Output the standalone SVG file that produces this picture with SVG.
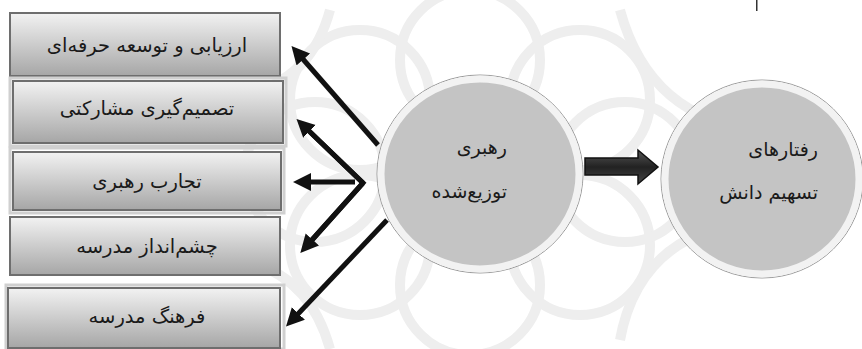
<svg xmlns="http://www.w3.org/2000/svg" width="862" height="349" viewBox="0 0 862 349">
  <defs>
    <linearGradient id="boxGrad" x1="0" y1="0" x2="0" y2="1">
      <stop offset="0" stop-color="#f2f2f2"/>
      <stop offset="1" stop-color="#a6a6a6"/>
    </linearGradient>
    <linearGradient id="blockGrad" x1="0" y1="0" x2="0" y2="1">
      <stop offset="0" stop-color="#555"/>
      <stop offset="0.5" stop-color="#222"/>
      <stop offset="1" stop-color="#444"/>
    </linearGradient>
    <marker id="head" markerUnits="userSpaceOnUse" markerWidth="20" markerHeight="20" refX="2" refY="9" orient="auto">
      <path d="M0,0 L18,9 L0,18 Z" fill="#111"/>
    </marker>
    <style>
      .box { fill: url(#boxGrad); stroke: #6e6e6e; stroke-width: 2; }
      .frame { fill: none; stroke: #d0d0d0; stroke-width: 3; }
      .lbl { font-family: "DejaVu Sans", "Noto Sans", sans-serif; font-size: 19.5px; fill: #1a1a1a; text-anchor: middle; direction: rtl; }
      .clbl { font-family: "DejaVu Sans", "Noto Sans", sans-serif; font-size: 19px; fill: #1a1a1a; text-anchor: start; direction: rtl; }
      .conn { stroke: #111; stroke-width: 5; fill: none; stroke-linecap: butt; stroke-linejoin: miter; }
      .ring { stroke: #f2f2f2; stroke-width: 7; }
      .ringOuter { fill: none; stroke: #9a9a9a; stroke-width: 1; }
      .wm { fill: none; stroke: #eeeeee; stroke-width: 10; }
    </style>
  </defs>

  <rect width="862" height="349" fill="#ffffff"/>

  <!-- faint background pattern -->
  <g id="watermark">
    <circle class="wm" cx="470" cy="60" r="70"/>
    <circle class="wm" cx="470" cy="285" r="70"/>
    <circle class="wm" cx="360" cy="100" r="70"/>
    <circle class="wm" cx="580" cy="100" r="70"/>
    <circle class="wm" cx="360" cy="245" r="70"/>
    <circle class="wm" cx="580" cy="245" r="70"/>
    <circle class="wm" cx="315" cy="172" r="70"/>
    <circle class="wm" cx="625" cy="172" r="70"/>
    <path class="wm" d="M160,90 Q300,120 330,10"/>
    <path class="wm" d="M620,10 Q650,120 760,130"/>
    <path class="wm" d="M620,340 Q640,230 760,220"/>
    <path class="wm" d="M170,260 Q300,240 330,349"/>
  </g>

  <g id="node-box1">
    <rect class="box" x="10" y="13" width="270" height="63"/>
    <text class="lbl" x="147" y="52">ارزیابی و توسعه حرفه‌ای</text>
  </g>
  <g id="node-box2">
    <rect class="frame" x="10" y="78" width="276" height="68"/>
    <rect class="box" x="13" y="81" width="270" height="62"/>
    <text class="lbl" x="147" y="115">تصمیم‌گیری مشارکتی</text>
  </g>
  <g id="node-box3">
    <rect class="frame" x="10" y="148" width="274" height="65"/>
    <rect class="box" x="13" y="152" width="268" height="58"/>
    <text class="lbl" x="147" y="188">تجارب رهبری</text>
  </g>
  <g id="node-box4">
    <rect class="box" x="10" y="217" width="270" height="58"/>
    <text class="lbl" x="147" y="253">چشم‌انداز مدرسه</text>
  </g>
  <g id="node-box5">
    <rect class="frame" x="6" y="285" width="278" height="64"/>
    <rect class="box" x="8" y="288" width="272" height="60"/>
    <text class="lbl" x="147" y="323">فرهنگ مدرسه</text>
  </g>

  <g id="node-distributed-leadership">
    <ellipse class="ringOuter" cx="480" cy="174" rx="103" ry="99"/>
    <ellipse class="ring" cx="480" cy="174" rx="99" ry="95" fill="#c4c4c4"/>
    <text class="clbl" x="507" y="154">رهبری</text>
    <text class="clbl" x="507" y="198">توزیع‌شده</text>
  </g>

  <g id="node-knowledge-sharing">
    <ellipse class="ringOuter" cx="762" cy="179" rx="101" ry="99"/>
    <ellipse class="ring" cx="762" cy="179" rx="97" ry="95" fill="#c4c4c4"/>
    <text class="clbl" x="818" y="156">رفتارهای</text>
    <text class="clbl" x="818" y="199">تسهیم دانش</text>
  </g>

  <g id="connectors">
    <line class="conn" x1="378" y1="145" x2="302" y2="58" marker-end="url(#head)"/>
    <polyline class="conn" points="308,130 363,183 312,240"/>
    <line class="conn" x1="363" y1="183" x2="308" y2="130" marker-end="url(#head)"/>
    <line class="conn" x1="363" y1="183" x2="311" y2="241" marker-end="url(#head)"/>
    <line class="conn" x1="355" y1="182" x2="309" y2="182" marker-end="url(#head)"/>
    <line class="conn" x1="387" y1="220" x2="297" y2="315" marker-end="url(#head)"/>
    <path d="M585,158 L638,158 L638,150 L658,167 L638,184 L638,175 L585,175 Z" fill="url(#blockGrad)" stroke="#111" stroke-width="1.5"/>
  </g>

  <rect x="756" y="0" width="1.5" height="11" fill="#333"/>
</svg>
